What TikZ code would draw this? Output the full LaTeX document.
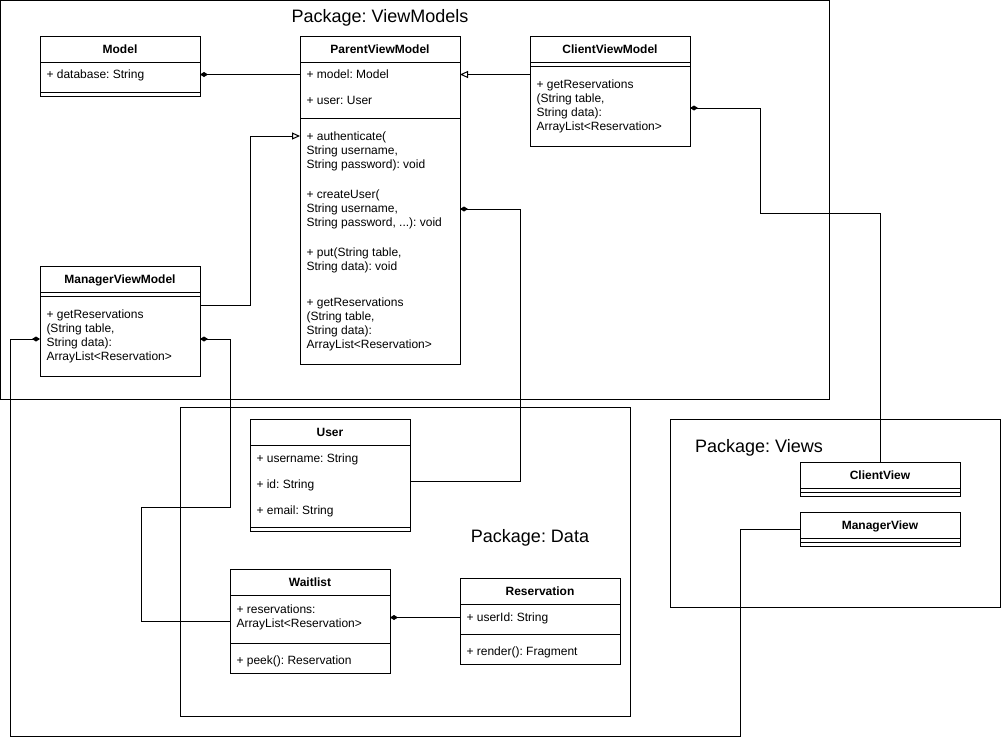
\documentclass[tikz,border=0pt]{standalone}
\usepackage{fontspec}
\setmainfont{Liberation Sans}
\usetikzlibrary{arrows.meta}
\frenchspacing

\begin{document}
\begin{tikzpicture}[x=1pt,y=-1pt,line width=1pt]
        %
        % `classbox' is the frame of a class, `pkg' the frame of a package.
        % `cname' is a class name, `member' one row, `members' several rows.
        \tikzstyle{classbox} = [draw,minimum width=160pt,inner sep=0pt,outer sep=0pt]
        \tikzstyle{pkg} = [draw,inner sep=0pt,outer sep=0pt]
        \tikzstyle{pkgname} = [font=\fontsize{18}{21}\selectfont,text height=12.9pt,text depth=0pt,inner sep=0pt]
        \tikzstyle{cname} = [font=\fontsize{12}{14}\selectfont\bfseries,text height=8.6pt,text depth=0pt,inner sep=0pt]
        \tikzstyle{member} = [anchor=west,font=\fontsize{12}{14}\selectfont,text height=8.6pt,text depth=0pt,inner sep=0pt]
        \tikzstyle{members} = [anchor=north west,align=left,font=\fontsize{12}{14}\selectfont,inner sep=0pt]
        \tikzstyle{composition} = [-{Diamond[length=8pt,width=5pt]}]
        \tikzstyle{inherit} = [-{Triangle[open,length=8pt,width=7pt]}]
        \useasboundingbox (0,0) rectangle (1001,745);
        %
        % Packages
        \node[pkg,minimum width=829pt,minimum height=399pt] (viewmodels) at (415,200) {};
        \node[pkg,minimum width=450pt,minimum height=309pt] (data) at (405.5,561.5) {};
        \node[pkg,minimum width=330pt,minimum height=188pt] (views) at (835.5,513.5) {};
        \node[pkgname] (vmtitle) at (380,16) {Package: ViewModels};
        \node[pkgname] (datatitle) at (530,536) {Package: Data};
        \node[pkgname] (viewstitle) at (759,446) {Package: Views};
        %
        % Class: Model
        \node[classbox,minimum height=60pt] (model) at (120,66) {};
        \draw (40,62) -- (200,62) (40,92) -- (200,92);
        \node[cname] (modelname) at (120,49) {Model};
        \node[member] (mdb) at (46,74.5) {+ database: String};
        %
        % Class: ParentViewModel
        \node[classbox,minimum height=328pt] (parent) at (380,200) {};
        \draw (300,62) -- (460,62) (300,118) -- (460,118);
        \node[cname] (parentname) at (380,49) {ParentViewModel};
        \node[member] (pmodel) at (306,74.5) {+ model: Model};
        \node[member] (puser) at (306,100.5) {+ user: User};
        \node[members] (pauth) at (306,131) {+ authenticate(\\String username,\\String password): void};
        \node[members] (pcreate) at (306,189) {+ createUser(\\String username,\\String password, ...): void};
        \node[members] (pput) at (306,247) {+ put(String table,\\String data): void};
        \node[members] (pget) at (306,297) {+ getReservations\\(String table,\\String data):\\ArrayList<Reservation>};
        %
        % Class: ClientViewModel
        \node[classbox,minimum height=110pt] (clientvm) at (610,91) {};
        \draw (530,62) -- (690,62) (530,66) -- (690,66);
        \node[cname] (clientvmname) at (610,49) {ClientViewModel};
        \node[members] (cget) at (536,79) {+ getReservations\\(String table,\\String data):\\ArrayList<Reservation>};
        %
        % Class: ManagerViewModel
        \node[classbox,minimum height=110pt] (mvm) at (120,321) {};
        \draw (40,292) -- (200,292) (40,296) -- (200,296);
        \node[cname] (mvmname) at (120,279) {ManagerViewModel};
        \node[members] (mget) at (46,309) {+ getReservations\\(String table,\\String data):\\ArrayList<Reservation>};
        %
        % Class: User
        \node[classbox,minimum height=112pt] (user) at (330,475) {};
        \draw (250,445) -- (410,445) (250,527) -- (410,527);
        \node[cname] (username) at (330,432) {User};
        \node[member] (uname) at (256,458.5) {+ username: String};
        \node[member] (uid) at (256,484.5) {+ id: String};
        \node[member] (umail) at (256,510.5) {+ email: String};
        %
        % Class: Waitlist
        \node[classbox,minimum height=104pt] (waitlist) at (310,621) {};
        \draw (230,595) -- (390,595) (230,643) -- (390,643);
        \node[cname] (waitlistname) at (310,582) {Waitlist};
        \node[members] (wres) at (236,604) {+ reservations:\\ArrayList<Reservation>};
        \node[member] (wpeek) at (236,660.5) {+ peek(): Reservation};
        %
        % Class: Reservation
        \node[classbox,minimum height=86pt] (reservation) at (540,621) {};
        \draw (460,604) -- (620,604) (460,634) -- (620,634);
        \node[cname] (reservationname) at (540,591) {Reservation};
        \node[member] (rusr) at (466,617.5) {+ userId: String};
        \node[member] (rrender) at (466,651.5) {+ render(): Fragment};
        %
        % Class: ClientView
        \node[classbox,minimum height=34pt] (clientview) at (880,479) {};
        \draw (800,488) -- (960,488) (800,492) -- (960,492);
        \node[cname] (clientviewname) at (880,475) {ClientView};
        %
        % Class: ManagerView
        \node[classbox,minimum height=34pt] (managerview) at (880,529) {};
        \draw (800,538) -- (960,538) (800,542) -- (960,542);
        \node[cname] (managerviewname) at (880,525) {ManagerView};
        %
        % Generalisations
        \draw[inherit] (clientvm.west |- pmodel) -- (parent.east |- pmodel);
        \draw[inherit] ([yshift=16pt]mvm.east) -- ++(50,0) |- ([yshift=64pt]parent.west);
        %
        % Compositions
        \draw[composition] (parent.west |- pmodel) -- (model.east |- pmodel);
        \draw[composition] ([yshift=-6pt]user.east) -- ++(110,0) |- ([yshift=-9pt]parent.east);
        \draw[composition] (clientview.north) -- ++(0,-249) -- ++(-120,0) |- ([yshift=-17pt]clientvm.east);
        \draw[composition] (managerview.west) -- ++(-60,0) -- ++(0,207) -- ++(-730,0) |- ([yshift=-18pt]mvm.west);
        \draw[composition] (waitlist.west) -- ++(-89,0) -- ++(0,-114) -- ++(89,0) |- ([yshift=-18pt]mvm.east);
        \draw[composition] (reservation.west |- rusr) -- (waitlist.east |- rusr);
        %
\end{tikzpicture}
\end{document}
